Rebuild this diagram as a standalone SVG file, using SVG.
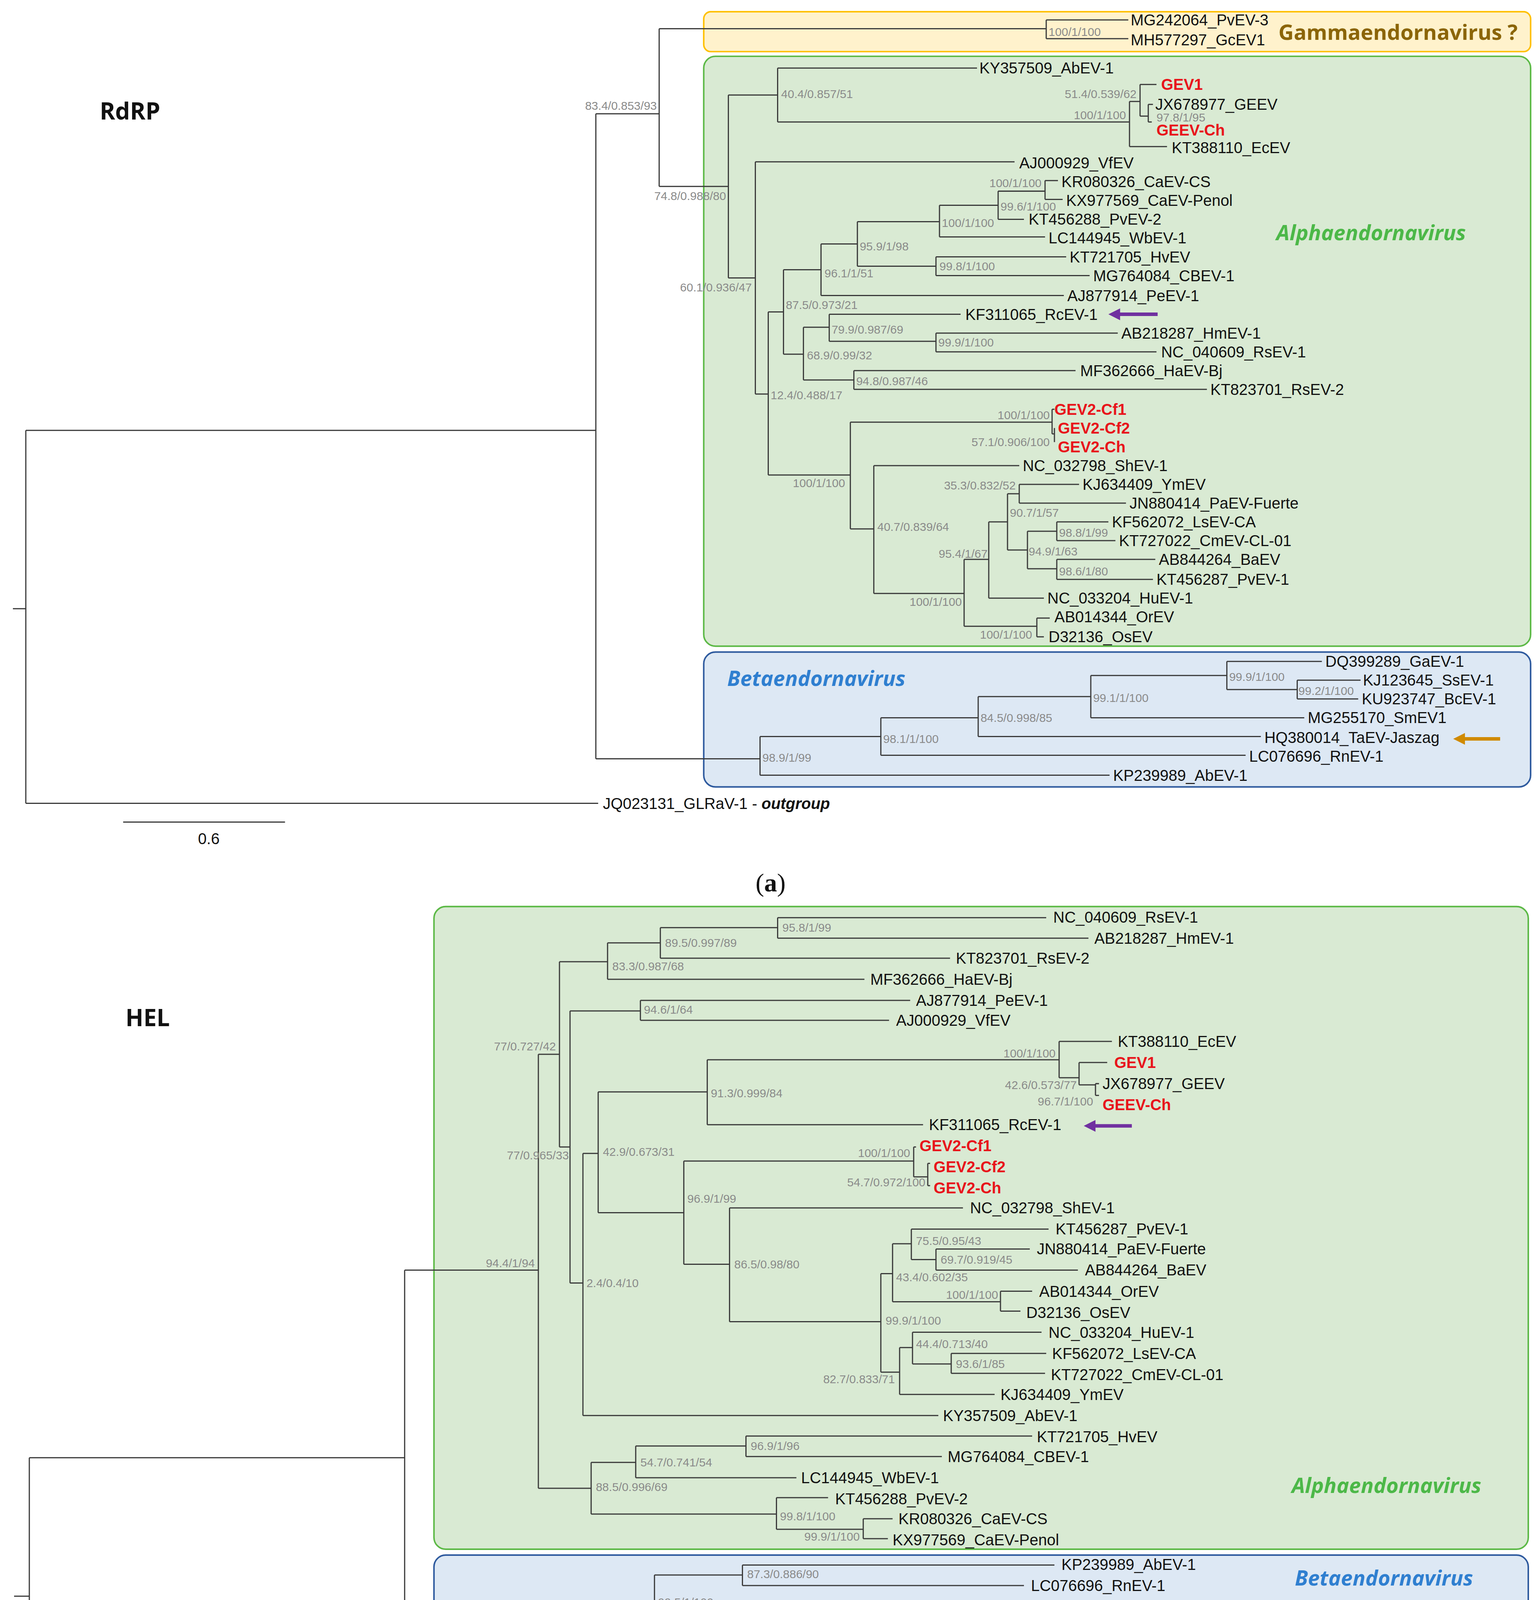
<svg xmlns="http://www.w3.org/2000/svg" width="3942" height="4709" viewBox="0 0 3942 4709">
<style>
.br{fill:none;stroke:#3a3a3a;stroke-width:1}
text{font-family:"Liberation Sans",Arial,sans-serif}
.l{font-size:13.3px;fill:#111;dominant-baseline:central}
.r{font-size:13.3px;fill:#e8141b;font-weight:bold;dominant-baseline:central}
.s{font-size:10px;fill:#8a8a8a;dominant-baseline:central}
.e{text-anchor:end}
.t{font-size:20px;font-weight:bold;fill:#111;font-family:"Open Sans","Liberation Sans",sans-serif}
.ga{fill:#fff2cc;stroke:#ffc000;stroke-width:1.3}
.al{fill:#d9ead3;stroke:#5cb946;stroke-width:1.3}
.be{fill:#dde8f4;stroke:#2e5a9e;stroke-width:1.3}
.cl{font-size:18px;font-weight:bold;font-family:"Open Sans","Liberation Sans",sans-serif;dominant-baseline:central}
.cap{font-family:"Liberation Serif",serif;font-size:22px;text-anchor:middle;fill:#111}
</style>
<rect width="3942" height="4709" fill="#fff"/>
<g transform="scale(3.0023)">
<g id="boxes">
<rect class="ga" x="600" y="10" width="705" height="34" rx="6"/>
<rect class="al" x="600" y="48" width="705" height="503" rx="10"/>
<rect class="be" x="600" y="556" width="705" height="115" rx="10"/>
<rect class="al" x="370" y="773" width="933" height="548" rx="10"/>
<rect class="be" x="370" y="1326" width="933" height="105" rx="10"/>
<rect class="ga" x="370" y="1435" width="933" height="32" rx="8"/>
</g>
<g id="titles">
<text class="t" x="85" y="102">RdRP</text>
<text class="t" x="107" y="875">HEL</text>
<text class="cl" x="1090" y="27" fill="#8b6508">Gammaendornavirus ?</text>
<text class="cl" x="1169" y="198" fill="#4cb848" font-style="italic" text-anchor="middle">Alphaendornavirus</text>
<text class="cl" x="620" y="578" fill="#2f7fd0" font-style="italic">Betaendornavirus</text>
<text class="cl" x="1263" y="1266" fill="#4cb848" font-style="italic" text-anchor="end">Alphaendornavirus</text>
<text class="cl" x="1180" y="1345" fill="#2f7fd0" font-style="italic" text-anchor="middle">Betaendornavirus</text>
<text class="cl" x="1279" y="1452" fill="#8b6508" font-style="italic" text-anchor="end">Gammaendornavirus ?</text>
<text class="cap" x="657" y="760">(<tspan font-weight="bold">a</tspan>)</text>
<text class="cap" x="657" y="1556">(<tspan font-weight="bold">b</tspan>)</text>
</g>
<g id="connectors" class="br">
<path d="M11 519H22M22 367V685M22 367H508M22 685H510M508 97V647M508 97H562M508 647H648M562 24.5V159M562 24.5H892M562 159H621M892 17V33M892 17H962M892 33H962M621 81V237M621 81H663M621 237H644M663 58V104M663 58H833M663 104H963M963 86.5V125M963 86.5H972M963 125H995M972 72V99M972 72H986M972 99H979M979 89V104M979 89H983M979 104H982M644 138V336M644 138H865M644 336H655M655 266V405M655 266H668M655 405H725M668 230V302M668 230H700M668 302H685M700 208V252M700 208H731M700 252H907M731 189V227M731 189H801M731 227H798M801 175V202M801 175H851M801 202H891M851 163V187M851 163H891M851 187H873M891 154V170M891 154H902M891 170H906M798 219V235M798 219H909M798 235H929M685 279V324M685 279H707M685 324H728M707 268V291M707 268H819M707 291H798M798 284V300M798 284H953M798 300H986M728 316V332M728 316H917M728 332H1029M725 360V451M725 360H897M725 451H745M897 349V370M897 349H899M897 370H899M899 365V377M745 397V506M745 397H869M745 506H822M822 477V534M822 477H843M822 534H884M843 445V510M843 445H859M843 510H890M859 421V469M859 421H869M859 469H876M869 413V429M869 413H920M869 429H960M876 453V485M876 453H901M876 485H901M901 445V461M901 445H945M901 461H951M901 477V494M901 477H985M901 494H983M884 527V543M884 527H895M884 543H890M648 628V661M648 628H751M648 661H946M751 612V644M751 612H834M751 644H1062M834 594V628M834 594H930M834 628H1075M930 576V612M930 576H1046M930 612H1112M1046 564V588M1046 564H1127M1046 588H1106M1106 580V596M1106 580H1160M1106 596H1158"/>
<path d="M105 701H243M54 1500H147"/>
<path d="M12 1361H25M25 1243V1474M25 1243H345M25 1474H345M345 1083V1450M345 1083H459M345 1366H558M345 1450H568M459 899V1269M459 899H477M459 1269H504M477 820V978M477 820H518M477 978H486M518 804V835M518 804H563M518 835H737M563 791V817M563 791H663M563 817H810M663 782.5V800M663 782.5H892M663 800H928M486 862V1094M486 862H546M486 1094H497M546 853V870M546 853H776M546 870H758M497 983.5V1207M497 983.5H510M497 1207H800M510 931V1034M510 931H603M510 1034H583M603 903.6V959M603 903.6H903M603 959H787M903 888V919M903 888H948M903 919H920M920 906V925M920 906H944M920 925H934M934 924V934M934 924H937M934 934H937M583 990V1078M583 990H779M583 1078H622M779 978V1003.5M779 978H781M779 1003.5H791M791 992V1011M791 992H793M791 1011H793M622 1030V1127M622 1030H821M622 1127H751M751 1086V1170M751 1086H761M751 1170H767M761 1060.5V1110M761 1060.5H777M761 1110H853M777 1048V1074M777 1048H894M777 1074H798M798 1065V1083M798 1065H878M798 1083H919M853 1101V1118M853 1101H880M853 1118H870M767 1149V1189M767 1149H778M767 1189H848M778 1136V1163M778 1136H888M778 1163H811M811 1154V1171M811 1154H892M811 1171H891M504 1247V1291M504 1247H542M504 1291H662M542 1233V1260M542 1233H636M542 1260H679M636 1224.5V1242M636 1224.5H880M636 1242H803M662 1277V1304M662 1277H706M662 1304H736M736 1295V1312M736 1295H761M736 1312H757M558 1343V1390M558 1343H633M558 1390H623M633 1334.5V1352M633 1334.5H899M633 1352H873M623 1370V1409.5M623 1370H876M623 1409.5H815M815 1396V1423M815 1396H910M815 1423H968M910 1388V1405M910 1388H1081M910 1405H1052M568 1441V1459M568 1441H656M568 1459H639"/>
<path d="M987 268H953" stroke="#7030a0" stroke-width="3"/>
<path d="M955 263L945 268L955 273Z" fill="#7030a0" stroke="none"/>
<path d="M1279 630H1247" stroke="#d08a00" stroke-width="3"/>
<path d="M1249 625L1239 630L1249 635Z" fill="#d08a00" stroke="none"/>
<path d="M965 960H932" stroke="#7030a0" stroke-width="3"/>
<path d="M934 955L924 960L934 965Z" fill="#7030a0" stroke="none"/>
</g>
<g id="leaves-a">
<text class="l" x="964" y="17">MG242064_PvEV-3</text>
<text class="l" x="964" y="34">MH577297_GcEV1</text>
<text class="l" x="835" y="58">KY357509_AbEV-1</text>
<text class="r" x="990" y="72">GEV1</text>
<text class="l" x="985" y="89">JX678977_GEEV</text>
<text class="r" x="986" y="111">GEEV-Ch</text>
<text class="l" x="999" y="126">KT388110_EcEV</text>
<text class="l" x="869" y="139">AJ000929_VfEV</text>
<text class="l" x="905" y="155">KR080326_CaEV-CS</text>
<text class="l" x="909" y="171">KX977569_CaEV-Penol</text>
<text class="l" x="877" y="187">KT456288_PvEV-2</text>
<text class="l" x="894" y="203">LC144945_WbEV-1</text>
<text class="l" x="912" y="219">KT721705_HvEV</text>
<text class="l" x="932" y="235">MG764084_CBEV-1</text>
<text class="l" x="910" y="252">AJ877914_PeEV-1</text>
<text class="l" x="823" y="268">KF311065_RcEV-1</text>
<text class="l" x="956" y="284">AB218287_HmEV-1</text>
<text class="l" x="990" y="300">NC_040609_RsEV-1</text>
<text class="l" x="921" y="316">MF362666_HaEV-Bj</text>
<text class="l" x="1032" y="332">KT823701_RsEV-2</text>
<text class="r" x="899" y="349">GEV2-Cf1</text>
<text class="r" x="902" y="365">GEV2-Cf2</text>
<text class="r" x="902" y="381">GEV2-Ch</text>
<text class="l" x="872" y="397">NC_032798_ShEV-1</text>
<text class="l" x="923" y="413">KJ634409_YmEV</text>
<text class="l" x="963" y="429">JN880414_PaEV-Fuerte</text>
<text class="l" x="948" y="445">KF562072_LsEV-CA</text>
<text class="l" x="954" y="461">KT727022_CmEV-CL-01</text>
<text class="l" x="988" y="477">AB844264_BaEV</text>
<text class="l" x="986" y="494">KT456287_PvEV-1</text>
<text class="l" x="893" y="510">NC_033204_HuEV-1</text>
<text class="l" x="899" y="526">AB014344_OrEV</text>
<text class="l" x="894" y="543">D32136_OsEV</text>
<text class="l" x="1130" y="564">DQ399289_GaEV-1</text>
<text class="l" x="1162" y="580">KJ123645_SsEV-1</text>
<text class="l" x="1161" y="596">KU923747_BcEV-1</text>
<text class="l" x="1115" y="612">MG255170_SmEV1</text>
<text class="l" x="1078" y="629">HQ380014_TaEV-Jaszag</text>
<text class="l" x="1065" y="645">LC076696_RnEV-1</text>
<text class="l" x="949" y="661">KP239989_AbEV-1</text>
<text class="l" x="514" y="685">JQ023131_GLRaV-1 - <tspan font-weight="bold" font-style="italic">outgroup</tspan></text>
<text class="l" x="178" y="715" text-anchor="middle">0.6</text>
</g>
<g id="support-a">
<text class="s" x="894" y="27">100/1/100</text>
<text class="s e" x="560" y="90">83.4/0.853/93</text>
<text class="s" x="666" y="80">40.4/0.857/51</text>
<text class="s e" x="969" y="80">51.4/0.539/62</text>
<text class="s e" x="960" y="98">100/1/100</text>
<text class="s" x="986" y="100">97.8/1/95</text>
<text class="s e" x="619" y="167">74.8/0.988/80</text>
<text class="s e" x="641" y="245">60.1/0.936/47</text>
<text class="s e" x="888" y="156">100/1/100</text>
<text class="s" x="853" y="176">99.6/1/100</text>
<text class="s" x="803" y="190">100/1/100</text>
<text class="s" x="733" y="210">95.9/1/98</text>
<text class="s" x="801" y="227">99.8/1/100</text>
<text class="s" x="703" y="233">96.1/1/51</text>
<text class="s" x="670" y="260">87.5/0.973/21</text>
<text class="s" x="709" y="281">79.9/0.987/69</text>
<text class="s" x="800" y="292">99.9/1/100</text>
<text class="s" x="688" y="303">68.9/0.99/32</text>
<text class="s" x="730" y="325">94.8/0.987/46</text>
<text class="s" x="657" y="337">12.4/0.488/17</text>
<text class="s e" x="895" y="354">100/1/100</text>
<text class="s e" x="895" y="377">57.1/0.906/100</text>
<text class="s" x="676" y="412">100/1/100</text>
<text class="s e" x="866" y="414">35.3/0.832/52</text>
<text class="s" x="861" y="437">90.7/1/57</text>
<text class="s" x="748" y="449">40.7/0.839/64</text>
<text class="s" x="903" y="454">98.8/1/99</text>
<text class="s" x="877" y="470">94.9/1/63</text>
<text class="s e" x="842" y="472">95.4/1/67</text>
<text class="s" x="903" y="487">98.6/1/80</text>
<text class="s e" x="820" y="513">100/1/100</text>
<text class="s e" x="880" y="541">100/1/100</text>
<text class="s" x="1048" y="577">99.9/1/100</text>
<text class="s" x="1107" y="589">99.2/1/100</text>
<text class="s" x="932" y="595">99.1/1/100</text>
<text class="s" x="836" y="612">84.5/0.998/85</text>
<text class="s" x="753" y="630">98.1/1/100</text>
<text class="s" x="650" y="646">98.9/1/99</text>
</g>
<g id="leaves-b">
<text class="l" x="898" y="782">NC_040609_RsEV-1</text>
<text class="l" x="933" y="800">AB218287_HmEV-1</text>
<text class="l" x="815" y="817">KT823701_RsEV-2</text>
<text class="l" x="742" y="835">MF362666_HaEV-Bj</text>
<text class="l" x="781" y="853">AJ877914_PeEV-1</text>
<text class="l" x="764" y="870">AJ000929_VfEV</text>
<text class="l" x="953" y="888">KT388110_EcEV</text>
<text class="r" x="950" y="906">GEV1</text>
<text class="l" x="940" y="924">JX678977_GEEV</text>
<text class="r" x="940" y="942">GEEV-Ch</text>
<text class="l" x="792" y="959">KF311065_RcEV-1</text>
<text class="r" x="784" y="977">GEV2-Cf1</text>
<text class="r" x="796" y="995">GEV2-Cf2</text>
<text class="r" x="796" y="1013">GEV2-Ch</text>
<text class="l" x="827" y="1030">NC_032798_ShEV-1</text>
<text class="l" x="900" y="1048">KT456287_PvEV-1</text>
<text class="l" x="884" y="1065">JN880414_PaEV-Fuerte</text>
<text class="l" x="925" y="1083">AB844264_BaEV</text>
<text class="l" x="886" y="1101">AB014344_OrEV</text>
<text class="l" x="875" y="1119">D32136_OsEV</text>
<text class="l" x="894" y="1136">NC_033204_HuEV-1</text>
<text class="l" x="897" y="1154">KF562072_LsEV-CA</text>
<text class="l" x="896" y="1172">KT727022_CmEV-CL-01</text>
<text class="l" x="853" y="1189">KJ634409_YmEV</text>
<text class="l" x="804" y="1207">KY357509_AbEV-1</text>
<text class="l" x="884" y="1225">KT721705_HvEV</text>
<text class="l" x="808" y="1242">MG764084_CBEV-1</text>
<text class="l" x="683" y="1260">LC144945_WbEV-1</text>
<text class="l" x="712" y="1278">KT456288_PvEV-2</text>
<text class="l" x="766" y="1295">KR080326_CaEV-CS</text>
<text class="l" x="761" y="1313">KX977569_CaEV-Penol</text>
<text class="l" x="905" y="1334">KP239989_AbEV-1</text>
<text class="l" x="879" y="1352">LC076696_RnEV-1</text>
<text class="l" x="881" y="1370">MG255170_SmEV1</text>
<text class="l" x="1087" y="1388">KU923747_BcEV-1</text>
<text class="l" x="1058" y="1405">KJ123645_SsEV-1</text>
<text class="l" x="974" y="1423">DQ399289_GaEV-1</text>
<text class="l" x="662" y="1441">MG242064_PvEV-3</text>
<text class="l" x="643" y="1459">MH577297_GcEV-1</text>
<text class="l" x="349" y="1476">JQ023131_GLRaV-1 - <tspan font-weight="bold" font-style="italic">outgroup</tspan></text>
<text class="s" x="102" y="1513" text-anchor="middle" fill="#333">0.4</text>
</g>
<g id="support-b">
<text class="s" x="667" y="791">95.8/1/99</text>
<text class="s" x="567" y="804">89.5/0.997/89</text>
<text class="s" x="522" y="824">83.3/0.987/68</text>
<text class="s" x="549" y="861">94.6/1/64</text>
<text class="s e" x="474" y="892">77/0.727/42</text>
<text class="s e" x="900" y="898">100/1/100</text>
<text class="s e" x="918" y="925">42.6/0.573/77</text>
<text class="s" x="606" y="932">91.3/0.999/84</text>
<text class="s e" x="932" y="939">96.7/1/100</text>
<text class="s e" x="776" y="983">100/1/100</text>
<text class="s" x="514" y="982">42.9/0.673/31</text>
<text class="s e" x="485" y="985">77/0.965/33</text>
<text class="s e" x="789" y="1008">54.7/0.972/100</text>
<text class="s" x="586" y="1022">96.9/1/99</text>
<text class="s" x="781" y="1058">75.5/0.95/43</text>
<text class="s" x="802" y="1074">69.7/0.919/45</text>
<text class="s" x="626" y="1078">86.5/0.98/80</text>
<text class="s e" x="456" y="1077">94.4/1/94</text>
<text class="s" x="764" y="1089">43.4/0.602/35</text>
<text class="s" x="500" y="1094">2.4/0.4/10</text>
<text class="s e" x="851" y="1104">100/1/100</text>
<text class="s" x="755" y="1126">99.9/1/100</text>
<text class="s" x="781" y="1146">44.4/0.713/40</text>
<text class="s" x="815" y="1163">93.6/1/85</text>
<text class="s e" x="763" y="1176">82.7/0.833/71</text>
<text class="s" x="640" y="1233">96.9/1/96</text>
<text class="s" x="546" y="1247">54.7/0.741/54</text>
<text class="s" x="508" y="1268">88.5/0.996/69</text>
<text class="s" x="665" y="1293">99.8/1/100</text>
<text class="s e" x="733" y="1310">99.9/1/100</text>
<text class="s" x="637" y="1342">87.3/0.886/90</text>
<text class="s" x="561" y="1366">99.5/1/100</text>
<text class="s" x="626" y="1389">60.1/0.876/69</text>
<text class="s" x="913" y="1396">96.3/1/99</text>
<text class="s" x="818" y="1409">99.4/1/100</text>
<text class="s" x="571" y="1450">99.9/1/100</text>
</g>
</g>
</svg>
